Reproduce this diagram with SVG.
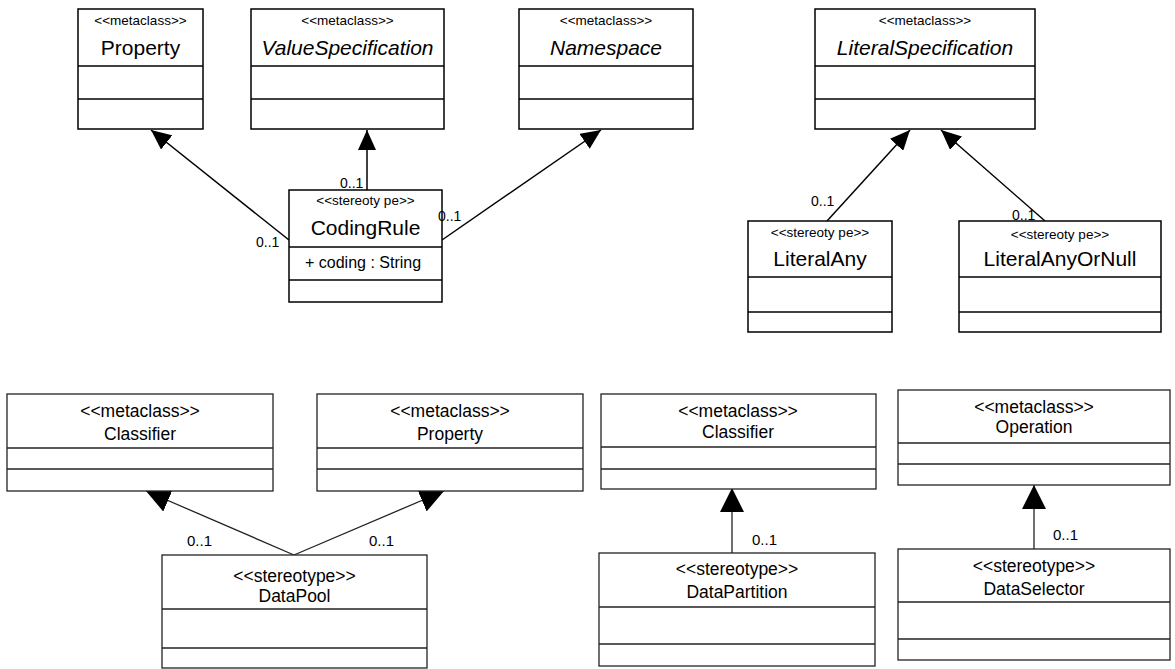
<svg xmlns="http://www.w3.org/2000/svg" width="1175" height="669" viewBox="0 0 1175 669">
<style>
.box{fill:#fff;stroke:#000;stroke-width:1.5}
.box2{fill:#fff;stroke:#222;stroke-width:1.3}
.div{stroke:#000;stroke-width:1.5}
.div2{stroke:#222;stroke-width:1.3}
.st{font-family:"Liberation Sans",Arial,sans-serif;font-size:13.5px;fill:#000;text-anchor:middle}
.nm{font-family:"Liberation Sans",Arial,sans-serif;font-size:21px;fill:#000;text-anchor:middle}
.it{font-style:italic}
.at{font-family:"Liberation Sans",Arial,sans-serif;font-size:16px;fill:#000}
.lb{font-family:"Liberation Sans",Arial,sans-serif;font-size:14px;fill:#000}
.b{font-family:"Liberation Sans",Arial,sans-serif;font-size:17.5px;fill:#000;text-anchor:middle}
.lb2{font-family:"Liberation Sans",Arial,sans-serif;font-size:15px;fill:#000}
.ln{stroke:#000;stroke-width:1.5;fill:none}
.ln2{stroke:#222;stroke-width:1.3;fill:none}
</style>
<defs>
<marker id="tri" markerUnits="userSpaceOnUse" markerWidth="20" markerHeight="18" refX="20" refY="9" orient="auto">
<path d="M0,0 L20,9 L0,18 z" fill="#000"/>
</marker>
<marker id="tri2" markerUnits="userSpaceOnUse" markerWidth="24" markerHeight="24" refX="24" refY="12" orient="auto">
<path d="M0,0 L24,12 L0,24 z" fill="#000"/>
</marker>
</defs>
<rect width="1175" height="669" fill="#fff"/>

<g id="connectors">
<line class="ln" x1="289" y1="240" x2="151" y2="130" marker-end="url(#tri)"/>
<line class="ln" x1="367" y1="190" x2="367" y2="130" marker-end="url(#tri)"/>
<line class="ln" x1="442" y1="240" x2="601" y2="130" marker-end="url(#tri)"/>
<line class="ln" x1="827" y1="221" x2="910" y2="130" marker-end="url(#tri)"/>
<line class="ln" x1="1045" y1="221" x2="941" y2="130" marker-end="url(#tri)"/>
<line class="ln2" x1="294" y1="555" x2="146" y2="491" marker-end="url(#tri2)"/>
<line class="ln2" x1="294" y1="555" x2="444" y2="491" marker-end="url(#tri2)"/>
<line class="ln2" x1="732" y1="553" x2="732" y2="488" marker-end="url(#tri2)"/>
<line class="ln2" x1="1034" y1="549" x2="1034" y2="485" marker-end="url(#tri2)"/>
</g>

<g id="property-top">
<rect class="box" x="78" y="9" width="125" height="120"/>
<line class="div" x1="78" y1="66" x2="203" y2="66"/>
<line class="div" x1="78" y1="99" x2="203" y2="99"/>
<text class="st" x="140.5" y="25">&lt;&lt;metaclass&gt;&gt;</text>
<text class="nm" x="140.5" y="55">Property</text>
</g>

<g id="valuespecification">
<rect class="box" x="251" y="9" width="193" height="120"/>
<line class="div" x1="251" y1="66" x2="444" y2="66"/>
<line class="div" x1="251" y1="99" x2="444" y2="99"/>
<text class="st" x="347.5" y="25">&lt;&lt;metaclass&gt;&gt;</text>
<text class="nm it" x="347.5" y="55">ValueSpecification</text>
</g>

<g id="namespace">
<rect class="box" x="519" y="9" width="174" height="120"/>
<line class="div" x1="519" y1="66" x2="693" y2="66"/>
<line class="div" x1="519" y1="99" x2="693" y2="99"/>
<text class="st" x="606" y="25">&lt;&lt;metaclass&gt;&gt;</text>
<text class="nm it" x="606" y="55">Namespace</text>
</g>

<g id="literalspecification">
<rect class="box" x="815" y="9" width="220" height="120"/>
<line class="div" x1="815" y1="66" x2="1035" y2="66"/>
<line class="div" x1="815" y1="99" x2="1035" y2="99"/>
<text class="st" x="925" y="25">&lt;&lt;metaclass&gt;&gt;</text>
<text class="nm it" x="925" y="55">LiteralSpecification</text>
</g>

<g id="codingrule">
<rect class="box" x="289" y="190" width="153" height="112"/>
<line class="div" x1="289" y1="247" x2="442" y2="247"/>
<line class="div" x1="289" y1="280" x2="442" y2="280"/>
<text class="st" x="365.5" y="205">&lt;&lt;stereoty pe&gt;&gt;</text>
<text class="nm" x="365.5" y="235">CodingRule</text>
<text class="at" x="305" y="268">+ coding : String</text>
</g>

<g id="literalany">
<rect class="box" x="748" y="221" width="144" height="111"/>
<line class="div" x1="748" y1="277" x2="892" y2="277"/>
<line class="div" x1="748" y1="312" x2="892" y2="312"/>
<text class="st" x="820" y="237">&lt;&lt;stereoty pe&gt;&gt;</text>
<text class="nm" x="820" y="266">LiteralAny</text>
</g>

<g id="literalanyornull">
<rect class="box" x="959" y="221" width="202" height="111"/>
<line class="div" x1="959" y1="277" x2="1161" y2="277"/>
<line class="div" x1="959" y1="312" x2="1161" y2="312"/>
<text class="st" x="1060" y="239">&lt;&lt;stereoty pe&gt;&gt;</text>
<text class="nm" x="1060" y="266">LiteralAnyOrNull</text>
</g>

<g id="classifier-left">
<rect class="box2" x="7" y="394" width="266" height="97"/>
<line class="div2" x1="7" y1="448" x2="273" y2="448"/>
<line class="div2" x1="7" y1="469" x2="273" y2="469"/>
<text class="b" x="140" y="417">&lt;&lt;metaclass&gt;&gt;</text>
<text class="b" x="140" y="440">Classifier</text>
</g>

<g id="property-bottom">
<rect class="box2" x="317" y="394" width="266" height="97"/>
<line class="div2" x1="317" y1="448" x2="583" y2="448"/>
<line class="div2" x1="317" y1="469" x2="583" y2="469"/>
<text class="b" x="450" y="417">&lt;&lt;metaclass&gt;&gt;</text>
<text class="b" x="450" y="440">Property</text>
</g>

<g id="datapool">
<rect class="box2" x="162" y="555" width="265" height="113"/>
<line class="div2" x1="162" y1="609" x2="427" y2="609"/>
<line class="div2" x1="162" y1="648" x2="427" y2="648"/>
<text class="b" x="294.5" y="582">&lt;&lt;stereotype&gt;&gt;</text>
<text class="b" x="294.5" y="602">DataPool</text>
</g>

<g id="classifier-right">
<rect class="box2" x="601" y="394" width="275" height="95"/>
<line class="div2" x1="601" y1="447" x2="876" y2="447"/>
<line class="div2" x1="601" y1="469" x2="876" y2="469"/>
<text class="b" x="738" y="417">&lt;&lt;metaclass&gt;&gt;</text>
<text class="b" x="738" y="438">Classifier</text>
</g>

<g id="datapartition">
<rect class="box2" x="599" y="553" width="276" height="113"/>
<line class="div2" x1="599" y1="607" x2="875" y2="607"/>
<line class="div2" x1="599" y1="644" x2="875" y2="644"/>
<text class="b" x="737" y="575">&lt;&lt;stereotype&gt;&gt;</text>
<text class="b" x="737" y="598">DataPartition</text>
</g>

<g id="operation">
<rect class="box2" x="898" y="390" width="272" height="95"/>
<line class="div2" x1="898" y1="443" x2="1170" y2="443"/>
<line class="div2" x1="898" y1="464" x2="1170" y2="464"/>
<text class="b" x="1034" y="413">&lt;&lt;metaclass&gt;&gt;</text>
<text class="b" x="1034" y="433">Operation</text>
</g>

<g id="dataselector">
<rect class="box2" x="898" y="549" width="272" height="111"/>
<line class="div2" x1="898" y1="602" x2="1170" y2="602"/>
<line class="div2" x1="898" y1="639" x2="1170" y2="639"/>
<text class="b" x="1034" y="572">&lt;&lt;stereotype&gt;&gt;</text>
<text class="b" x="1034" y="595">DataSelector</text>
</g>

<g id="connector-labels">
<text class="lb" x="340" y="188">0..1</text>
<text class="lb" x="256" y="247">0..1</text>
<text class="lb" x="438" y="221">0..1</text>
<text class="lb" x="811" y="206">0..1</text>
<text class="lb" x="1012" y="220">0..1</text>
<text class="lb2" x="187" y="546">0..1</text>
<text class="lb2" x="369" y="546">0..1</text>
<text class="lb2" x="752" y="545">0..1</text>
<text class="lb2" x="1053" y="540">0..1</text>
</g>
</svg>
